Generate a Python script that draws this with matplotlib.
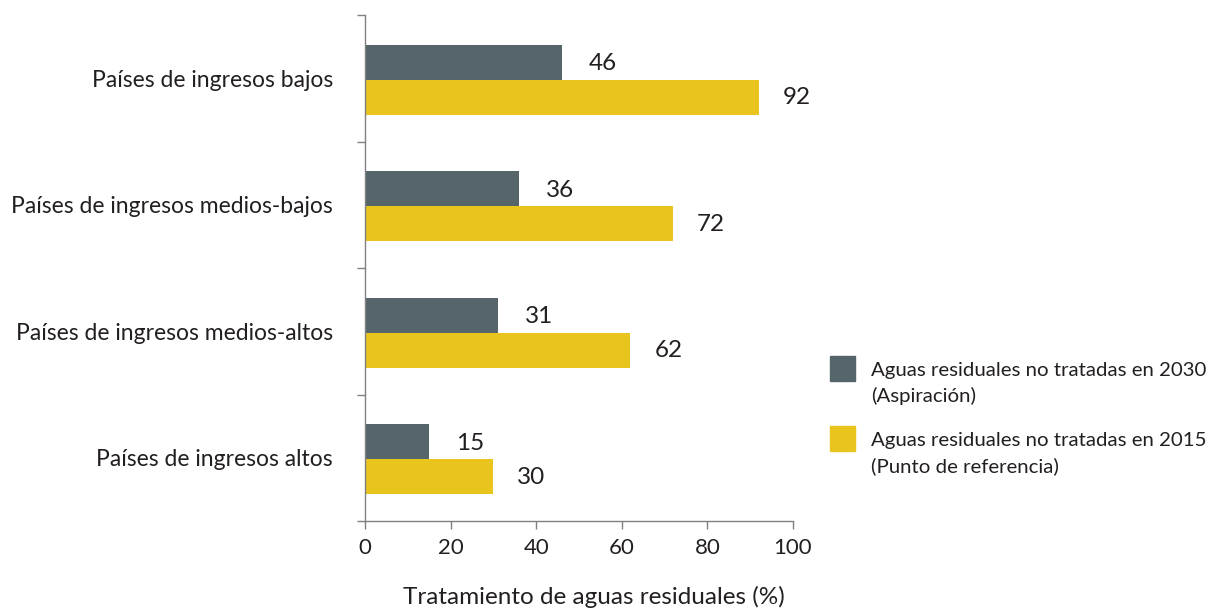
import matplotlib
matplotlib.use("Agg")
import matplotlib.pyplot as plt
from matplotlib.patches import Rectangle

plt.rcParams['font.family'] = ['Lato', 'DejaVu Sans']

categories = ["Países de ingresos bajos", "Países de ingresos medios-bajos",
              "Países de ingresos medios-altos", "Países de ingresos altos"]
vals_2030 = [46, 36, 31, 15]
vals_2015 = [92, 72, 62, 30]
legend_labels = ["Aguas residuales no tratadas en 2030\n(Aspiración)",
                 "Aguas residuales no tratadas en 2015\n(Punto de referencia)"]
xticks = [0, 20, 40, 60, 80, 100]
xlabel = "Tratamiento de aguas residuales (%)"

GRAY = "#56656a"
YELLOW = "#e8c41c"
TXT = "#231f20"
SPINE = "#808080"

W, H = 1208, 610
fig = plt.figure(figsize=(W / 100, H / 100), dpi=100)
ax = fig.add_axes([365 / W, 1 - 521 / H, (793 - 365) / W, (521 - 15) / H])

n = len(categories)
ypos = [n - 1 - i for i in range(n)]
bh = 0.277
off = 0.138
c = -0.012
ax.barh([y + c + off for y in ypos], vals_2030, height=bh, color=GRAY, zorder=2)
ax.barh([y + c - off for y in ypos], vals_2015, height=bh, color=YELLOW, zorder=2)

for y, v in zip(ypos, vals_2030):
    ax.annotate(str(v), (v, y + c + off - 0.01), xytext=(27, 0), textcoords="offset pixels",
                ha="left", va="center", fontsize=17.5, color=TXT)
for y, v in zip(ypos, vals_2015):
    ax.annotate(str(v), (v, y + c - off - 0.005), xytext=(24, 0), textcoords="offset pixels",
                ha="left", va="center", fontsize=17.5, color=TXT)

ax.set_xlim(0, 100)
ax.set_ylim(-0.5, n - 0.5)
ax.set_xticks(xticks)
ax.set_xticklabels([str(t) for t in xticks], fontsize=16, color=TXT)
ax.tick_params(axis="x", length=6, width=1, color=SPINE, pad=6)
ax.set_yticks(ypos)
ax.set_yticklabels(categories, fontsize=16.5, color=TXT)
ax.tick_params(axis="y", which="major", length=0, pad=23)
ax.set_yticks([k - 0.5 for k in range(n + 1)], minor=True)
ax.tick_params(axis="y", which="minor", length=6, width=1, color=SPINE)
ax.set_xlabel(xlabel, fontsize=17.5, color=TXT, va="baseline")
ax.xaxis.set_label_coords(0.534, (521 - 604) / 506)

for s in ["top", "right"]:
    ax.spines[s].set_visible(False)
for s in ["left", "bottom"]:
    ax.spines[s].set_color(SPINE)
    ax.spines[s].set_linewidth(1)

# legend
items = [(356, GRAY), (426, YELLOW)]
for (ytop, col), lab in zip(items, legend_labels):
    fig.add_artist(Rectangle((830 / W, 1 - (ytop + 25) / H), 25 / W, 25 / H,
                             transform=fig.transFigure, color=col))
    for k, line in enumerate(lab.split("\n")):
        fig.text(871 / W, 1 - (ytop + 20 + 26 * k) / H, line, ha="left", va="baseline",
                 fontsize=14.7, color=TXT)

fig.savefig("out.png", dpi=100)
